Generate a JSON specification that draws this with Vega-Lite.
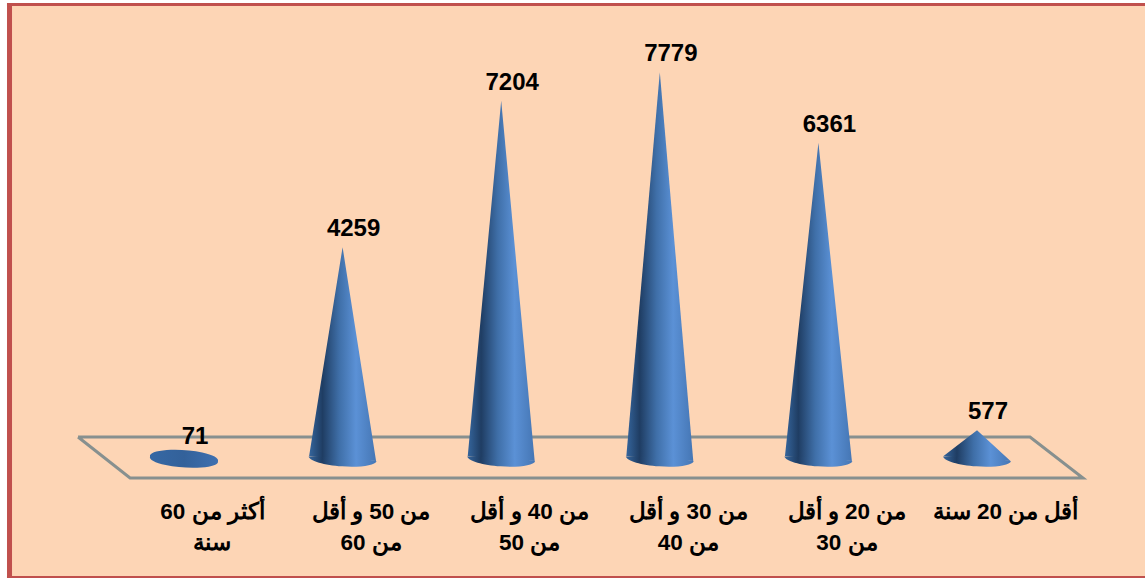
{
"$schema":"https://vega.github.io/schema/vega-lite/v6.json",
"width":1145,"height":578,"padding":0,"autosize":{"type":"none"},"background":"#ffffff",
"config":{"view":{"stroke":null}},
"datasets":{"ages":[
{"age":"أكثر من 60 سنة","order":0,"value":71},
{"age":"من 50 و أقل من 60","order":1,"value":4259},
{"age":"من 40 و أقل من 50","order":2,"value":7204},
{"age":"من 30 و أقل من 40","order":3,"value":7779},
{"age":"من 20 و أقل من 30","order":4,"value":6361},
{"age":"أقل من 20 سنة","order":5,"value":577}],
"plate":[{"k":0,"px":-0.668,"py":439},{"k":1,"px":5.334,"py":439},{"k":2,"px":5.668,"py":-386},{"k":3,"px":-0.34,"py":-386},{"k":4,"px":-0.668,"py":439}]},
"data":{"name":"ages"},
"layer":[
{"data":{"values":[{}]},"mark":{"type":"rect","fill":"#fdd5b5"},"encoding":{
"x":{"datum":-1.116,"type":"quantitative","scale":{"domain":[-1.16,6.059],"nice":false,"zero":false},"axis":{"values":[0,1,2,3,4,5],"zindex":1,"title":null,"domain":false,"ticks":false,"grid":false,"orient":"bottom","offset":-78,"labelPadding":0,"labelOffset":28,"labelAngle":0,"labelFont":"Liberation Sans","labelFontWeight":"bold","labelFontSize":22.5,"labelColor":"#000000","labelLineHeight":31,"labelBaseline":"top","labelOverlap":false,"labelFlush":false,"labelExpr":"[['أكثر من 60','سنة'],['من 50 و أقل','من 60'],['من 40 و أقل','من 50'],['من 30 و أقل','من 40'],['من 20 و أقل','من 30'],['أقل من 20 سنة']][datum.value]"}},"x2":{"datum":6.059},
"y":{"datum":9171,"type":"quantitative","scale":{"domain":[-2398,9231],"nice":false,"zero":false},"axis":null},"y2":{"datum":-2398}}},
{"data":{"values":[{}]},"mark":{"type":"rule","stroke":"#c0504d","strokeWidth":5},"encoding":{
"x":{"datum":-1.1,"type":"quantitative"},"y":{"datum":9171,"type":"quantitative"},"y2":{"datum":-2398}}},
{"data":{"values":[{}]},"mark":{"type":"rule","stroke":"#c0504d","strokeWidth":3},"encoding":{
"x":{"datum":-1.116,"type":"quantitative"},"x2":{"datum":6.059},"y":{"datum":9141,"type":"quantitative"}}},
{"data":{"values":[{}]},"mark":{"type":"rule","stroke":"#c0504d","strokeWidth":2},"encoding":{
"x":{"datum":-1.116,"type":"quantitative"},"x2":{"datum":6.059},"y":{"datum":-2378,"type":"quantitative"}}},
{"data":{"name":"plate"},"mark":{"type":"line","stroke":"#87908f","strokeWidth":3,"strokeJoin":"miter"},"encoding":{
"x":{"field":"px","type":"quantitative"},"y":{"field":"py","type":"quantitative"},"order":{"field":"k"}}},
{"mark":{"type":"point","filled":true,"opacity":1,"size":4624,"shape":"M-1,-0.07A1.005,0.24 4 0,0 1,0.07L0,-0.12Z",
"fill":{"x1":0,"x2":1,"y1":0,"y2":0,"gradient":"linear","stops":[{"offset":0,"color":"#35659c"},{"offset":0.2,"color":"#1f3d63"},{"offset":0.45,"color":"#3f6fa8"},{"offset":0.7,"color":"#5b91d6"},{"offset":1,"color":"#4576b4"}]}},
"transform":[{"filter":"datum.value>=100"}],
"encoding":{"x":{"field":"order","type":"quantitative"},"y":{"datum":0,"type":"quantitative"}}},
{"mark":{"type":"area","interpolate":"linear","fill":{"x1":0,"x2":1,"y1":0,"y2":0,"gradient":"linear","stops":[{"offset":0,"color":"#35659c"},{"offset":0.2,"color":"#1f3d63"},{"offset":0.45,"color":"#3f6fa8"},{"offset":0.7,"color":"#5b91d6"},{"offset":1,"color":"#4576b4"}]}},
"transform":[{"filter":"datum.value>=100"},{"calculate":"[-1,0,1]","as":"side"},{"flatten":["side"]},
{"calculate":"datum.order+datum.side*0.211","as":"px"},
{"calculate":"6-50*datum.side","as":"base"},
{"calculate":"datum.side==0?datum.value:datum.base","as":"top"}],
"encoding":{"x":{"field":"px","type":"quantitative"},"y":{"field":"top","type":"quantitative"},"y2":{"field":"base"},"detail":{"field":"age"}}},
{"mark":{"type":"point","filled":true,"opacity":1,"size":4624,"shape":"M-1,-0.07A1.005,0.24 4 1,0 1,0.07A1.005,0.24 4 1,0 -1,-0.07Z",
"fill":{"x1":0,"x2":1,"y1":0,"y2":0,"gradient":"linear","stops":[{"offset":0,"color":"#3668a4"},{"offset":0.5,"color":"#33619a"},{"offset":1,"color":"#3f70b0"}]}},
"transform":[{"filter":"datum.value<100"}],
"encoding":{"x":{"field":"order","type":"quantitative"},"y":{"datum":0,"type":"quantitative"}}},
{"mark":{"type":"text","font":"Liberation Sans","fontWeight":"bold","fontSize":24,"fill":"#000000","baseline":"bottom","dy":-6,"dx":11},
"encoding":{"x":{"field":"order","type":"quantitative"},
"y":{"field":"value","type":"quantitative"},"text":{"field":"value","type":"quantitative","format":"d"}}}
]}
